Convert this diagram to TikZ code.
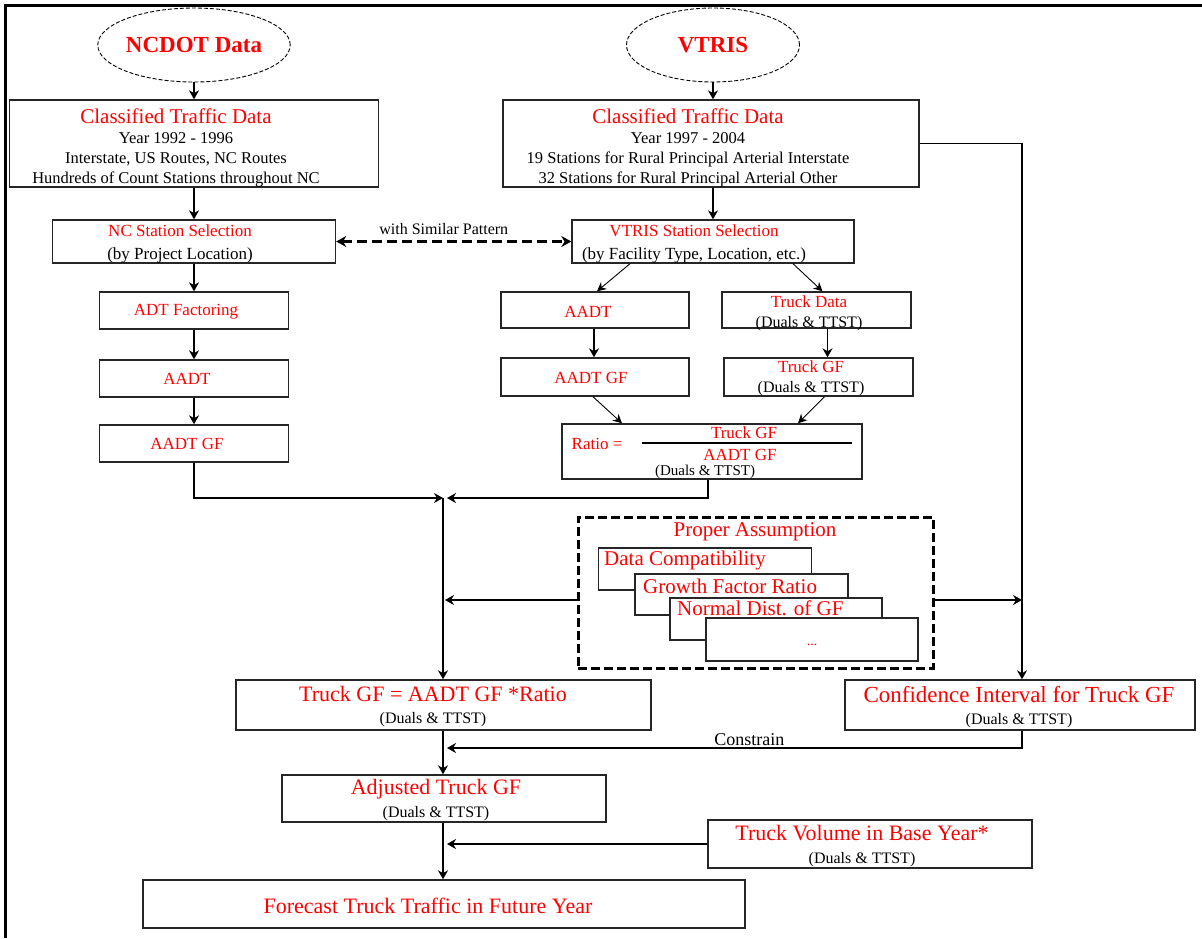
\documentclass[tikz,border=0pt]{standalone}
\usepackage{fontspec}
\setmainfont{Liberation Serif}
\usetikzlibrary{arrows.meta,shapes.geometric}
\newcommand\hdr{\fontsize{21}{21}\selectfont\color{red}}
\newcommand\bighdr{\fontsize{22}{22}\selectfont\color{red}}
\newcommand\redsm{\fontsize{17}{17}\selectfont\color{red}}
\begin{document}
\begin{tikzpicture}[x=1pt,y=-1pt,
  box/.style={draw=black!85,line width=1.4pt,fill=white,inner sep=0pt},
  tx/.style={inner sep=0pt,align=center,font=\fontsize{16.5}{20}\selectfont},
  src/.style={draw,ellipse,line width=0.9pt,dash pattern=on 4pt off 2pt,inner sep=0pt,
    text=red,font=\fontsize{23}{24}\selectfont\bfseries},
  conn/.style={line width=1.3pt,-{Stealth[length=9pt,width=10pt]}},
  thinconn/.style={line width=0.9pt,-{Stealth[length=9pt,width=9pt]}},
  dashbox/.style={draw,line width=3pt,dash pattern=on 9pt off 4pt,inner sep=0pt},
  layer/.style={draw=black!85,line width=1.4pt,fill=white,inner sep=0pt},
  lbl/.style={inner sep=0pt,font=\fontsize{16}{18}\selectfont},
  laytx/.style={inner sep=0pt,anchor=west,text=red,font=\fontsize{21}{21}\selectfont},
]
\useasboundingbox (0,0) rectangle (1202,938);
% page frame (left and top rules)
\draw[line width=3pt] (5,938) -- (5,5) -- (1202,5);

% data sources
\node[src,minimum width=178,minimum height=74] (ncdot) at (194,45) {NCDOT Data};
\node[src,minimum width=173,minimum height=74] (vtris) at (713,45) {VTRIS};

% NCDOT column
\node[box,minimum width=369,minimum height=87] (ncc) at (194,143.5) {};
\node[tx] (ncc-t) at (176,148)
  {{\hdr Classified Traffic Data}\\Year 1992 - 1996\\Interstate, US Routes, NC Routes\\Hundreds of Count Stations throughout NC};
\node[box,minimum width=283,minimum height=43] (ncsel) at (194,241.5) {};
\node[tx,font=\fontsize{17}{23}\selectfont] (ncsel-t) at (180,243.5)
  {{\redsm NC Station Selection}\\(by Project Location)};
\node[box,minimum width=189,minimum height=37] (adtf) at (194,310.5) {};
\node[tx] (adtf-t) at (186,312) {\redsm ADT Factoring};
\node[box,minimum width=189,minimum height=37] (ncaadt) at (194,378.5) {};
\node[tx] (ncaadt-t) at (187,379) {\redsm AADT};
\node[box,minimum width=189,minimum height=37] (ncaadtgf) at (194,443.5) {};
\node[tx] (ncaadtgf-t) at (187,444) {\redsm AADT GF};

% VTRIS column
\node[box,minimum width=416,minimum height=87] (vc) at (711,143.5) {};
\node[tx] (vc-t) at (688,148)
  {{\hdr Classified Traffic Data}\\Year 1997 - 2004\\19 Stations for Rural Principal Arterial Interstate\\32 Stations for Rural Principal Arterial Other};
\node[box,minimum width=282,minimum height=43] (vsel) at (713,241.5) {};
\node[tx,font=\fontsize{17}{23}\selectfont] (vsel-t) at (694,243.5)
  {{\redsm VTRIS Station Selection}\\(by Facility Type, Location, etc.)};
\node[box,minimum width=188,minimum height=36] (vaadt) at (595,310) {};
\node[tx] (vaadt-t) at (588,312) {\redsm AADT};
\node[box,minimum width=189,minimum height=36] (vtd) at (816.5,310) {};
\node[tx,font=\fontsize{16}{20}\selectfont] (vtd-t) at (809,313) {{\redsm Truck Data}\\(Duals \& TTST)};
\node[box,minimum width=188,minimum height=38] (vaadtgf) at (595,377) {};
\node[tx] (vaadtgf-t) at (591,378) {\redsm AADT GF};
\node[box,minimum width=189,minimum height=38] (vtgf) at (818.5,377) {};
\node[tx,font=\fontsize{16}{20}\selectfont] (vtgf-t) at (811,378) {{\redsm Truck GF}\\(Duals \& TTST)};

% ratio box with its fraction
\node[box,minimum width=300,minimum height=55] (ratio) at (712,451.5) {};
\node[lbl,text=red,font=\fontsize{17}{17}\selectfont] (rlab) at (597,444) {Ratio =};
\node[lbl,text=red,font=\fontsize{17}{17}\selectfont] (rnum) at (744,433) {Truck GF};
\node[lbl,text=red,font=\fontsize{17}{17}\selectfont] (rden) at (740,455) {AADT GF};
\node[lbl,font=\fontsize{15}{15}\selectfont] (rsub) at (705,472) {(Duals \& TTST)};
\coordinate (fracL) at (642,443);
\coordinate (fracR) at (852,443);
\draw[line width=1.3pt] (fracL) -- (fracR);

% assumptions
\node[dashbox,minimum width=355,minimum height=151] (assume) at (755.5,592.5) {};
\node[lbl,text=red,font=\fontsize{21}{21}\selectfont] (asst) at (755,532) {Proper Assumption};
\node[layer,minimum width=213,minimum height=42] (l1) at (705,569) {};
\node[laytx] (l1t) at (604,560) {Data Compatibility};
\node[layer,minimum width=213,minimum height=41] (l2) at (741.5,594.5) {};
\node[laytx] (l2t) at (643,586) {Growth Factor Ratio};
\node[layer,minimum width=212,minimum height=42] (l3) at (776,619) {};
\node[laytx] (l3t) at (677,608) {Normal Dist. of GF};
\node[layer,minimum width=212,minimum height=43] (l4) at (812,639.5) {};
\node[lbl,text=red,font=\fontsize{14}{14}\selectfont] (l4t) at (812,645) {...};

% results
\node[box,minimum width=415,minimum height=50] (tgf) at (443.5,705) {};
\node[tx,font=\fontsize{16}{22}\selectfont] (tgf-t) at (433,707) {{\bighdr Truck GF = AADT GF *Ratio}\\(Duals \& TTST)};
\node[box,minimum width=350,minimum height=50] (ci) at (1020,705) {};
\node[tx,font=\fontsize{16}{22}\selectfont] (ci-t) at (1019,707) {{\fontsize{23}{23}\selectfont\color{red}Confidence Interval for Truck GF}\\(Duals \& TTST)};
\node[box,minimum width=324,minimum height=47] (adj) at (444,798.5) {};
\node[tx,font=\fontsize{16}{23}\selectfont] (adj-t) at (436,800.5) {{\bighdr Adjusted Truck GF}\\(Duals \& TTST)};
\node[box,minimum width=324,minimum height=48] (tvol) at (870,844) {};
\node[tx,font=\fontsize{16}{23}\selectfont] (tvol-t) at (862,846.5) {{\bighdr Truck Volume in Base Year*}\\(Duals \& TTST)};
\node[box,minimum width=602,minimum height=48] (fc) at (444,904) {};
\node[tx] (fc-t) at (428,906) {\bighdr Forecast Truck Traffic in Future Year};

% junction points
\coordinate (mergeL) at (443,498);
\coordinate (mergeR) at (447,498);
\coordinate (spine) at (445,600);
\coordinate (ciline) at (1022,600);
\coordinate (cons) at (447,748);
\coordinate (vol) at (447,842);

% connectors: sources and NCDOT chain
\draw[conn] (ncdot.south) -- (ncdot.south |- ncc.north);
\draw[conn] (vtris.south) -- (vtris.south |- vc.north);
\draw[conn] (ncc.south) -- (ncsel.north);
\draw[conn] (ncsel.south) -- (adtf.north);
\draw[conn] (adtf.south) -- (ncaadt.north);
\draw[conn] (ncaadt.south) -- (ncaadtgf.north);
\draw[conn] (vc.south -| vtris.south) -- (vsel.north);

% similar pattern link
\draw[line width=3pt,dash pattern=on 10pt off 5pt,{Stealth[length=10pt,width=11pt]}-{Stealth[length=10pt,width=11pt]}]
  (ncsel.east) -- node[lbl,above=5pt,xshift=-10pt] (simp) {with Similar Pattern} (vsel.west);

% VTRIS branches
\draw[thinconn] ([xshift=-83pt]vsel.south) -- ([xshift=2pt]vaadt.north);
\draw[thinconn] ([xshift=80pt]vsel.south) -- ([xshift=6pt]vtd.north);
\draw[conn] ([xshift=-1pt]vaadt.south) -- ([xshift=-1pt]vaadtgf.north);
\draw[conn] ([xshift=11pt]vtd.south) -- ([xshift=9pt]vtgf.north);
\draw[thinconn] ([xshift=-2pt]vaadtgf.south) -- ([xshift=-90pt]ratio.north);
\draw[thinconn] ([xshift=6pt]vtgf.south) -- ([xshift=86pt]ratio.north);

% merging into the growth factor computation
\draw[conn] (ncaadtgf.south) |- (mergeL);
\draw[conn] ([xshift=-4pt]ratio.south) |- (mergeR);
\draw[conn] (mergeL) -- (mergeL |- tgf.north);
\draw[conn] (assume.west |- spine) -- (spine);
\draw[conn] (assume.east |- ciline) -- (ciline);
\draw[conn] (vc.east) -| (ci.north -| ciline);

% constraint and forecast
\draw[conn] (ci.south -| ciline) |- node[lbl,above=2pt,pos=0.737,font=\fontsize{18}{18}\selectfont] (consl) {Constrain} (cons);
\draw[conn] (tgf.south -| mergeL) -- (adj.north -| mergeL);
\draw[conn] (tvol.west -| tvol.west) -- (tvol.west -| vol);
\draw[conn] (adj.south -| mergeL) -- (fc.north -| mergeL);
\end{tikzpicture}
\end{document}
